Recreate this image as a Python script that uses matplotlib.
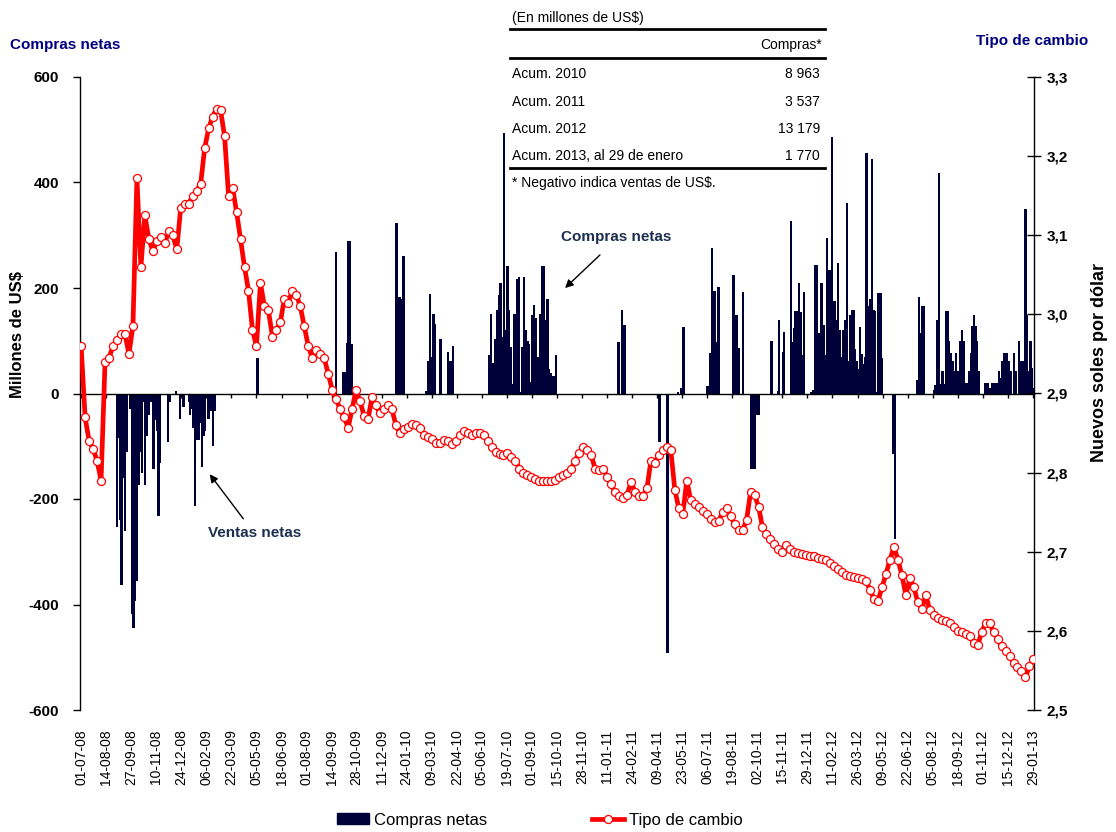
import pandas as pd
import matplotlib
matplotlib.use("Agg")
import matplotlib.pyplot as plt
from matplotlib.lines import Line2D
from matplotlib.patches import Patch
from matplotlib.ticker import FuncFormatter

plt.rcParams["font.family"] = ["Liberation Sans", "DejaVu Sans"]

# ----------------------------
# Data
# ----------------------------
startDate = "2008-07-01"

tickLabels = [
    "01-07-08", "14-08-08", "27-09-08", "10-11-08", "24-12-08", "06-02-09",
    "22-03-09", "05-05-09", "18-06-09", "01-08-09", "14-09-09", "28-10-09",
    "11-12-09", "24-01-10", "09-03-10", "22-04-10", "05-06-10", "19-07-10",
    "01-09-10", "15-10-10", "28-11-10", "11-01-11", "24-02-11", "09-04-11",
    "23-05-11", "06-07-11", "19-08-11", "02-10-11", "15-11-11", "29-12-11",
    "11-02-12", "26-03-12", "09-05-12", "22-06-12", "05-08-12", "18-09-12",
    "01-11-12", "15-12-12", "29-01-13",
]

# exchange rate (soles per dollar), one reading every 7 days from startDate
tipoCambio = [
    2.960, 2.870, 2.840, 2.830, 2.815, 2.790, 2.940, 2.945, 2.960, 2.968,
    2.975, 2.975, 2.950, 2.985, 3.172, 3.060, 3.125, 3.095, 3.080, 3.093,
    3.098, 3.090, 3.105, 3.100, 3.082, 3.135, 3.140, 3.140, 3.150, 3.156,
    3.165, 3.210, 3.235, 3.250, 3.260, 3.258, 3.225, 3.150, 3.160, 3.130,
    3.095, 3.060, 3.030, 2.980, 2.960, 3.040, 3.010, 3.005, 2.972, 2.980,
    2.990, 3.020, 3.015, 3.030, 3.025, 3.010, 2.985, 2.960, 2.945, 2.955,
    2.950, 2.945, 2.925, 2.905, 2.893, 2.880, 2.870, 2.857, 2.880, 2.905,
    2.890, 2.872, 2.868, 2.895, 2.885, 2.875, 2.880, 2.885, 2.880, 2.860,
    2.850, 2.855, 2.858, 2.862, 2.860, 2.857, 2.847, 2.845, 2.842, 2.838,
    2.838, 2.841, 2.840, 2.836, 2.840, 2.848, 2.853, 2.850, 2.848, 2.850,
    2.850, 2.848, 2.840, 2.832, 2.826, 2.824, 2.822, 2.825, 2.820, 2.815,
    2.805, 2.800, 2.797, 2.794, 2.792, 2.789, 2.789, 2.789, 2.789, 2.791,
    2.794, 2.797, 2.800, 2.805, 2.815, 2.825, 2.832, 2.828, 2.822, 2.805,
    2.803, 2.805, 2.795, 2.785, 2.775, 2.770, 2.768, 2.772, 2.788, 2.776,
    2.771, 2.771, 2.780, 2.815, 2.812, 2.822, 2.828, 2.832, 2.828, 2.778,
    2.755, 2.748, 2.790, 2.765, 2.760, 2.757, 2.752, 2.748, 2.742, 2.738,
    2.739, 2.750, 2.755, 2.745, 2.735, 2.728, 2.727, 2.740, 2.775, 2.772,
    2.757, 2.731, 2.722, 2.716, 2.710, 2.703, 2.700, 2.708, 2.704, 2.700,
    2.698, 2.697, 2.696, 2.695, 2.694, 2.692, 2.691, 2.689, 2.686, 2.682,
    2.678, 2.674, 2.671, 2.669, 2.668, 2.667, 2.666, 2.663, 2.652, 2.640,
    2.638, 2.655, 2.672, 2.690, 2.706, 2.690, 2.670, 2.645, 2.667, 2.655,
    2.636, 2.628, 2.645, 2.626, 2.620, 2.616, 2.614, 2.612, 2.610, 2.605,
    2.600, 2.598, 2.596, 2.594, 2.585, 2.582, 2.598, 2.610, 2.610, 2.598,
    2.590, 2.581, 2.575, 2.568, 2.560, 2.554, 2.549, 2.542, 2.555, 2.564,
]

# net purchases (millions of US$): day offset from startDate and amount
comprasDia = [
    63, 66, 69, 71, 74, 77, 80, 86, 89, 92, 95, 98, 101, 104, 107, 110, 112,
    115, 118, 121, 124, 127, 130, 133, 136, 139, 153, 156, 167, 174, 180, 189,
    191, 194, 197, 200, 203, 206, 209, 212, 215, 218, 224, 227, 232, 235, 310,
    448, 461, 464, 467, 470, 472, 475, 554, 557, 560, 563, 566,
    607, 610, 613, 616, 619, 622, 631, 644, 648, 651, 653,
    717, 720, 723, 725, 728, 731, 734, 737, 740, 743, 746, 749, 752, 755, 758,
    761, 764, 766, 769, 772, 775, 778, 781, 784, 787, 790, 793, 796, 799, 802,
    805, 807, 810, 813, 816, 819, 822, 825, 828, 831, 834,
    944, 950, 953, 955, 1016, 1030, 1049, 1055, 1058,
    1099, 1102, 1105, 1108, 1111, 1114, 1117, 1120, 1121,
    1146, 1149, 1152, 1155, 1163, 1178, 1181, 1184, 1187, 1190,
    1213, 1225, 1226, 1233, 1235, 1247, 1250, 1252, 1255, 1258, 1261, 1264,
    1267, 1270, 1283, 1286, 1289, 1292, 1295, 1298, 1301, 1304, 1307, 1310,
    1313, 1316, 1319, 1322, 1324, 1327, 1330, 1333, 1336, 1339, 1342, 1345,
    1348, 1351, 1354, 1357, 1360, 1363, 1366, 1368, 1371, 1374, 1377, 1380,
    1383, 1386, 1389, 1392, 1395, 1398, 1401, 1404, 1407, 1427, 1430,
    1469, 1472, 1475, 1478, 1481, 1498, 1501, 1504, 1507, 1510, 1513, 1516,
    1519, 1522, 1525, 1528, 1531, 1534, 1537, 1539, 1542, 1545, 1548, 1551,
    1554, 1557, 1560, 1563, 1566, 1569, 1572, 1574, 1577, 1589, 1592, 1595,
    1598, 1601, 1604, 1607, 1610, 1613, 1615, 1618, 1621, 1624, 1627, 1630,
    1633, 1639, 1642, 1648, 1651, 1654, 1657, 1659, 1661, 1664, 1668, 1671,
    1673,
]
comprasVal = [
    -253, -85, -240, -363, -160, -260, -110, -30, -418, -445, -394, -355, -174,
    -110, -150, -17, -174, -80, -40, -17, -17, -143, -50, -72, -233, -131, -92,
    -17, 5, -49, -25, -17, -41, -30, -65, -214, -88, -88, -55, -139, -80, -72,
    -49, -33, -100, -33, 68,
    268, 40, 40, 95, 289, 289, 93, 324, 183, 183, 179, 260,
    4, 61, 188, 69, 151, 132, 104, 78, 61, 61, 90,
    73, 151, 57, 20, 104, 159, 187, 209, 108, 493, 120, 242, 159, 89, 18,
    151, 151, 218, 220, 3, 89, 220, 120, 100, 93, 22, 148, 167, 144, 69,
    10, 151, 242, 242, 140, 179, 46, 38, 34, 34, 73,
    97, 159, 130, 130, -92, -492, 2, 10, 126,
    14, 14, 77, 275, 195, 195, 97, 201, 201,
    225, 148, 148, 86, 193, -143, -143, -143, -41, -41,
    100, 5, 140, 78, 116, 327, 97, 124, 157, 157, 210, 155,
    73, 192, 3, 6, 243, 243, 115, 115, 209, 130, 73, 294,
    235, 235, 487, 175, 175, 140, 248, 120, 69, 120, 140, 361,
    61, 148, 159, 159, 85, 61, 46, 126, 75, 55, 69, 455,
    166, 179, 444, 159, 157, 2, 190, 190, 68, -115, -276,
    26, 183, 115, 165, 165, 6, 16, 140, 418, 18, 42, 18,
    157, 157, 99, 77, 61, 42, 77, 42, 42, 99, 120, 99,
    20, 20, 42, 77, 128, 149, 128, 99, 42, 20, 20, 10,
    10, 20, 20, 20, 20, 42, 30, 61, 77, 77, 77, 61,
    42, 77, 42, 99, 61, 61, 61, 349, 149, 42, 99, 49,
    10,
]

tableHeader = "(En millones de US$)"
tableColumn = "Compras*"
tableRows = ["Acum. 2010", "Acum. 2011", "Acum. 2012", "Acum. 2013, al 29 de enero"]
tableVals = ["8 963", "3 537", "13 179", "1 770"]
tableNote = "* Negativo indica ventas de US$."

barColor = "#000038"
lineColor = "#ff0000"
titleColor = "#000080"
noteColor = "#1f2f4f"

W, H = 1116, 832


def fx(px):
    return px / W


def fy(py):
    return 1 - py / H


# ----------------------------
# Build dates
# ----------------------------
start = pd.Timestamp(startDate)
rateDates = pd.date_range(start, periods=len(tipoCambio), freq="7D")
barDates = start + pd.to_timedelta(comprasDia, unit="D")
tickDates = pd.to_datetime(tickLabels, format="%d-%m-%y")

fig = plt.figure(figsize=(W / 100, H / 100), dpi=100)
ax = fig.add_axes([fx(80), fy(710), fx(1034) - fx(80), fy(77) - fy(710)])
ax2 = ax.twinx()

# ----------------------------
# Bars: net purchases (left axis)
# ----------------------------
ax.bar(barDates, comprasVal, width=4.2, color=barColor, linewidth=0,
       antialiased=False, zorder=1)
ax.set_ylim(-600, 600)
ax.set_yticks(range(-600, 601, 200))
ax.yaxis.set_major_formatter(FuncFormatter(lambda v, p: f"{int(v)}"))
ax.set_xlim(pd.Timestamp("2008-06-29"), pd.Timestamp("2013-01-30"))
ax.set_xticks(tickDates)
ax.set_xticklabels(tickLabels)

for side in ["top", "right"]:
    ax.spines[side].set_visible(False)
ax.spines["bottom"].set_position(("data", 0))
ax.spines["bottom"].set_linewidth(1.0)
ax.spines["left"].set_linewidth(1.0)
ax.tick_params(axis="x", labelbottom=False, direction="out", length=3, width=1)
ax.tick_params(axis="y", direction="out", length=5, width=1, labelsize=11, pad=10)
for lab in ax.get_yticklabels():
    lab.set_fontweight("bold")

# ----------------------------
# Line: exchange rate (right axis)
# ----------------------------
ax2.plot(rateDates, tipoCambio, color=lineColor, linewidth=3.4, marker="o",
         markersize=5.8, markerfacecolor="white", markeredgecolor=lineColor,
         markeredgewidth=0.9, zorder=3)
ax2.set_ylim(2.5, 3.3)
ax2.set_yticks([2.5 + 0.1 * i for i in range(9)])
ax2.yaxis.set_major_formatter(FuncFormatter(lambda v, p: f"{v:.1f}".replace(".", ",")))
for side in ["top", "left", "bottom"]:
    ax2.spines[side].set_visible(False)
ax2.spines["right"].set_linewidth(1.0)
ax2.tick_params(axis="y", direction="inout", length=10, width=1, labelsize=11, pad=4)
for lab in ax2.get_yticklabels():
    lab.set_fontweight("bold")

# date labels at the bottom come from the twin axis
ax2.xaxis.set_visible(True)
ax2.tick_params(axis="x", bottom=True, labelbottom=True, length=0, pad=14,
                labelrotation=90, labelsize=10)

# ----------------------------
# Titles, axis labels, annotations
# ----------------------------
fig.text(fx(10), fy(45), "Compras netas", color=titleColor, fontsize=11,
         fontweight="bold", ha="left", va="center")
fig.text(fx(1088), fy(41), "Tipo de cambio", color=titleColor, fontsize=11,
         fontweight="bold", ha="right", va="center")
fig.text(fx(18), fy(334), "Millones de US$", rotation=90, fontsize=12,
         fontweight="bold", ha="center", va="center")
fig.text(fx(1100), fy(362), "Nuevos soles por dólar", rotation=90, fontsize=13,
         fontweight="bold", ha="center", va="center")

ax.annotate("", xy=(fx(563), fy(290)), xycoords="figure fraction",
            xytext=(fx(602), fy(253)), textcoords="figure fraction",
            arrowprops=dict(arrowstyle="-|>", color="black", lw=1, mutation_scale=12))
fig.text(fx(616), fy(237), "Compras netas", color=noteColor, fontsize=11,
         fontweight="bold", ha="center", va="center")
ax.annotate("", xy=(fx(208), fy(472)), xycoords="figure fraction",
            xytext=(fx(245), fy(521)), textcoords="figure fraction",
            arrowprops=dict(arrowstyle="-|>", color="black", lw=1, mutation_scale=12))
fig.text(fx(255), fy(533), "Ventas netas", color=noteColor, fontsize=11,
         fontweight="bold", ha="center", va="center")

# ----------------------------
# Inset table
# ----------------------------
fig.text(fx(512), fy(18), tableHeader, fontsize=10, ha="left", va="center")
fig.text(fx(822), fy(45), tableColumn, fontsize=10, ha="right", va="center")
rowY = [74, 102, 129, 156]
for name, val, yy in zip(tableRows, tableVals, rowY):
    fig.text(fx(512), fy(yy), name, fontsize=10, ha="left", va="center")
    fig.text(fx(820), fy(yy), val, fontsize=10, ha="right", va="center")
fig.text(fx(512), fy(183), tableNote, fontsize=10, ha="left", va="center")
for yy in [29, 58, 168]:
    fig.add_artist(Line2D([fx(510), fx(825)], [fy(yy), fy(yy)], color="black",
                          linewidth=2.0, transform=fig.transFigure))

# ----------------------------
# Legend
# ----------------------------
handles = [
    Patch(facecolor=barColor, edgecolor=barColor),
    Line2D([], [], color=lineColor, linewidth=3.4, marker="o", markersize=5.8,
           markerfacecolor="white", markeredgecolor=lineColor, markeredgewidth=0.9),
]
fig.legend(handles, ["Compras netas", "Tipo de cambio"], loc="center",
           bbox_to_anchor=(fx(540), fy(820)), ncol=2, frameon=False, fontsize=12,
           handlelength=1.9, handleheight=0.6, handletextpad=0.3, columnspacing=6.3)

fig.savefig("out.png", dpi=100)
